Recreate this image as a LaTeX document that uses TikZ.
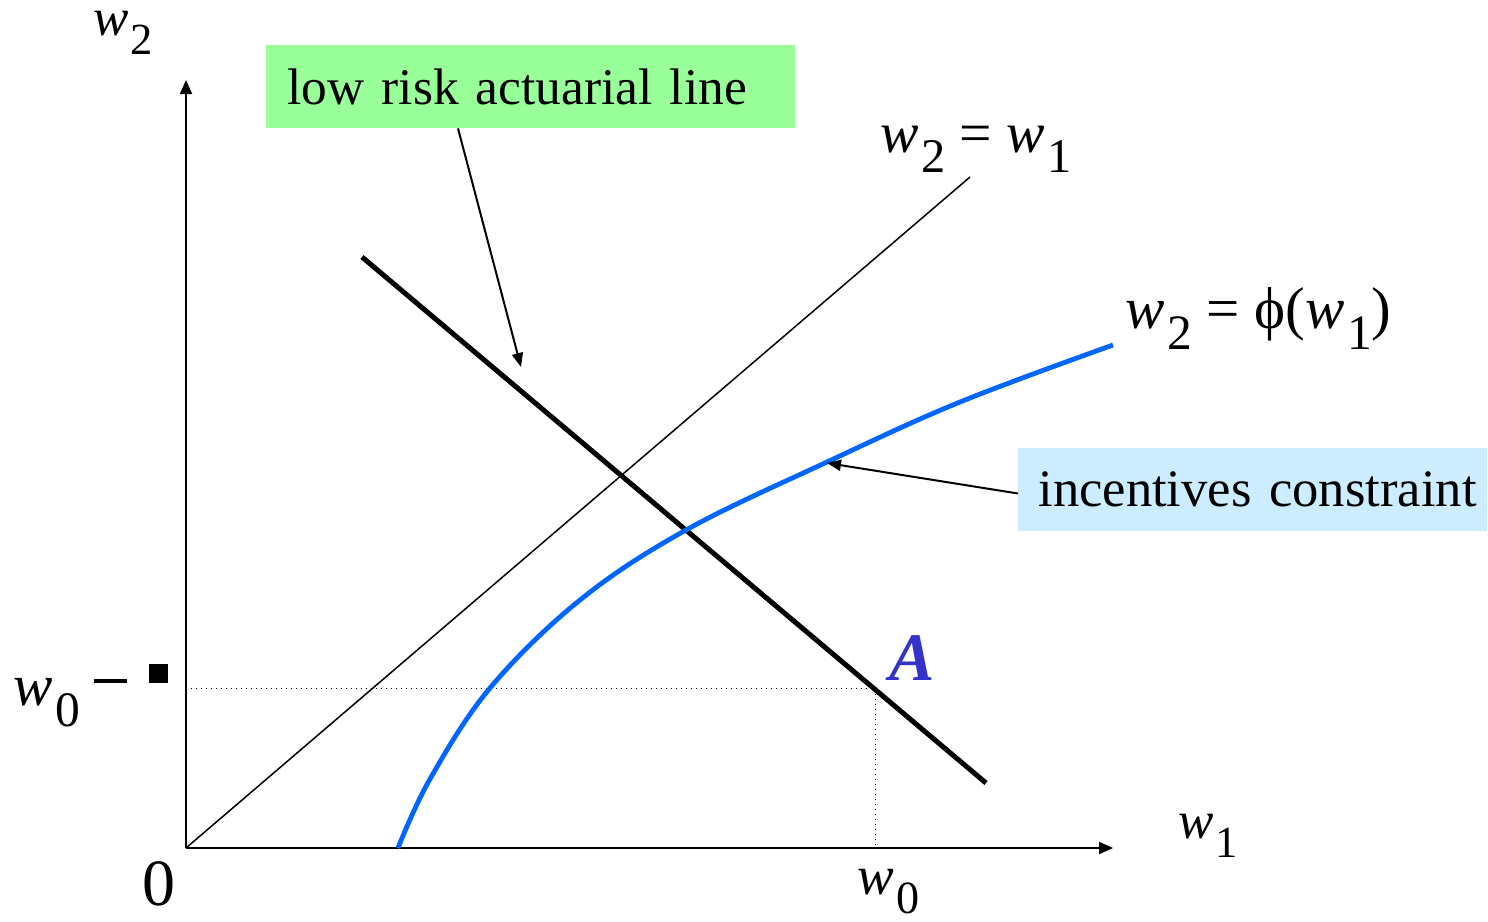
\documentclass[tikz,border=0pt]{standalone}
\usepackage{fontspec}
\setmainfont{Liberation Serif}
\usetikzlibrary{arrows.meta}
\definecolor{boxgreen}{RGB}{153,255,153}
\definecolor{boxblue}{RGB}{204,236,255}
\definecolor{curveblue}{RGB}{0,102,255}
\definecolor{ablue}{RGB}{51,51,204}
\newcommand{\wv}[1]{\textit{w}\kern0.04em\raisebox{-0.36em}{\scalebox{0.84}{#1}}}
\newcommand{\fs}[1]{\fontsize{#1}{#1}\selectfont}
\begin{document}
\begin{tikzpicture}[x=0.5pt,y=-0.5pt,
  txt/.style={inner sep=0pt},
  mth/.style={inner sep=0pt, anchor=base west},
  axis/.style={line width=1pt, -{Triangle[length=7pt,width=6pt]}},
  pointer/.style={line width=1pt, -{Triangle[length=7pt,width=5.5pt]}},
  guide/.style={line width=0.5pt, dotted}]
\useasboundingbox (0,0) rectangle (1488,921);
\coordinate (O) at (186,848);
\coordinate (ytop) at (186,80);
\coordinate (xend) at (1113,848);
% guides
\coordinate (Aw) at (875,688);
\draw[guide] (186,688) -- (Aw) -- (875,848);
% axes
\draw[axis] (O) -- (ytop);
\draw[axis] (O) -- (xend);
% 45 degree line
\coordinate (d1) at (970,177);
\draw[line width=0.75pt] (O) -- (d1);
% actuarial line
\coordinate (l1) at (362,257);
\coordinate (l2) at (986,783);
\draw[line width=2.5pt] (l1) -- (l2);
% incentive curve
\draw[curveblue, line width=2.4pt] plot[smooth, tension=0.6] coordinates
  {(398,848) (430,779) (490,688) (580,600) (686,530) (827,462) (960,402) (1113,345)};
% tick
\node[fill=black, minimum size=9.5pt, inner sep=0pt] (sq) at (158.5,673.5) {};
\draw[line width=2pt] (94,681) -- (127,681);
% labels
\node[mth, font=\fs{26.5}] (lw2) at (93,35) {\wv{2}};
\node[mth, font=\fs{26.5}] (lw1) at (1178,838) {\wv{1}};
\node[mth, font=\fs{27.5}] (lw0x) at (857,894) {\wv{0}};
\node[mth, font=\fs{29.5}] (lw0y) at (13,705) {\wv{0}};
\node[mth, font=\fs{33}] (l0) at (142,905) {0};
\node[mth, font=\fs{28.8}] (ldiag) at (880,152) {\wv{2} = \wv{1}};
\node[mth, font=\fs{29.5}] (lphi) at (1125,328) {\wv{2} = ϕ(\wv{1})};
\node[mth, font=\fs{34}\bfseries\itshape, text=ablue] (lA) at (889,680) {A};
% boxes
\node[txt, font=\fs{25.7}, fill=boxgreen, anchor=west, minimum height=41.5pt, text width=243.5pt, inner xsep=10.5pt, align=left] (gb) at (266,86.5) {\mbox{low risk actuarial line}};
\node[txt, font=\fs{26.3}, fill=boxblue, anchor=west, minimum height=41.5pt, text width=214.5pt, inner xsep=10pt, align=left] (bb) at (1018,489.5) {\mbox{incentives constraint}};
\coordinate (g1) at (521,367);
\coordinate (b1) at (827,463);
\draw[pointer] ([xshift=96pt]gb.south west) -- (g1);
\draw[pointer] ([yshift=-2pt]bb.west) -- (b1);
\end{tikzpicture}
\end{document}
